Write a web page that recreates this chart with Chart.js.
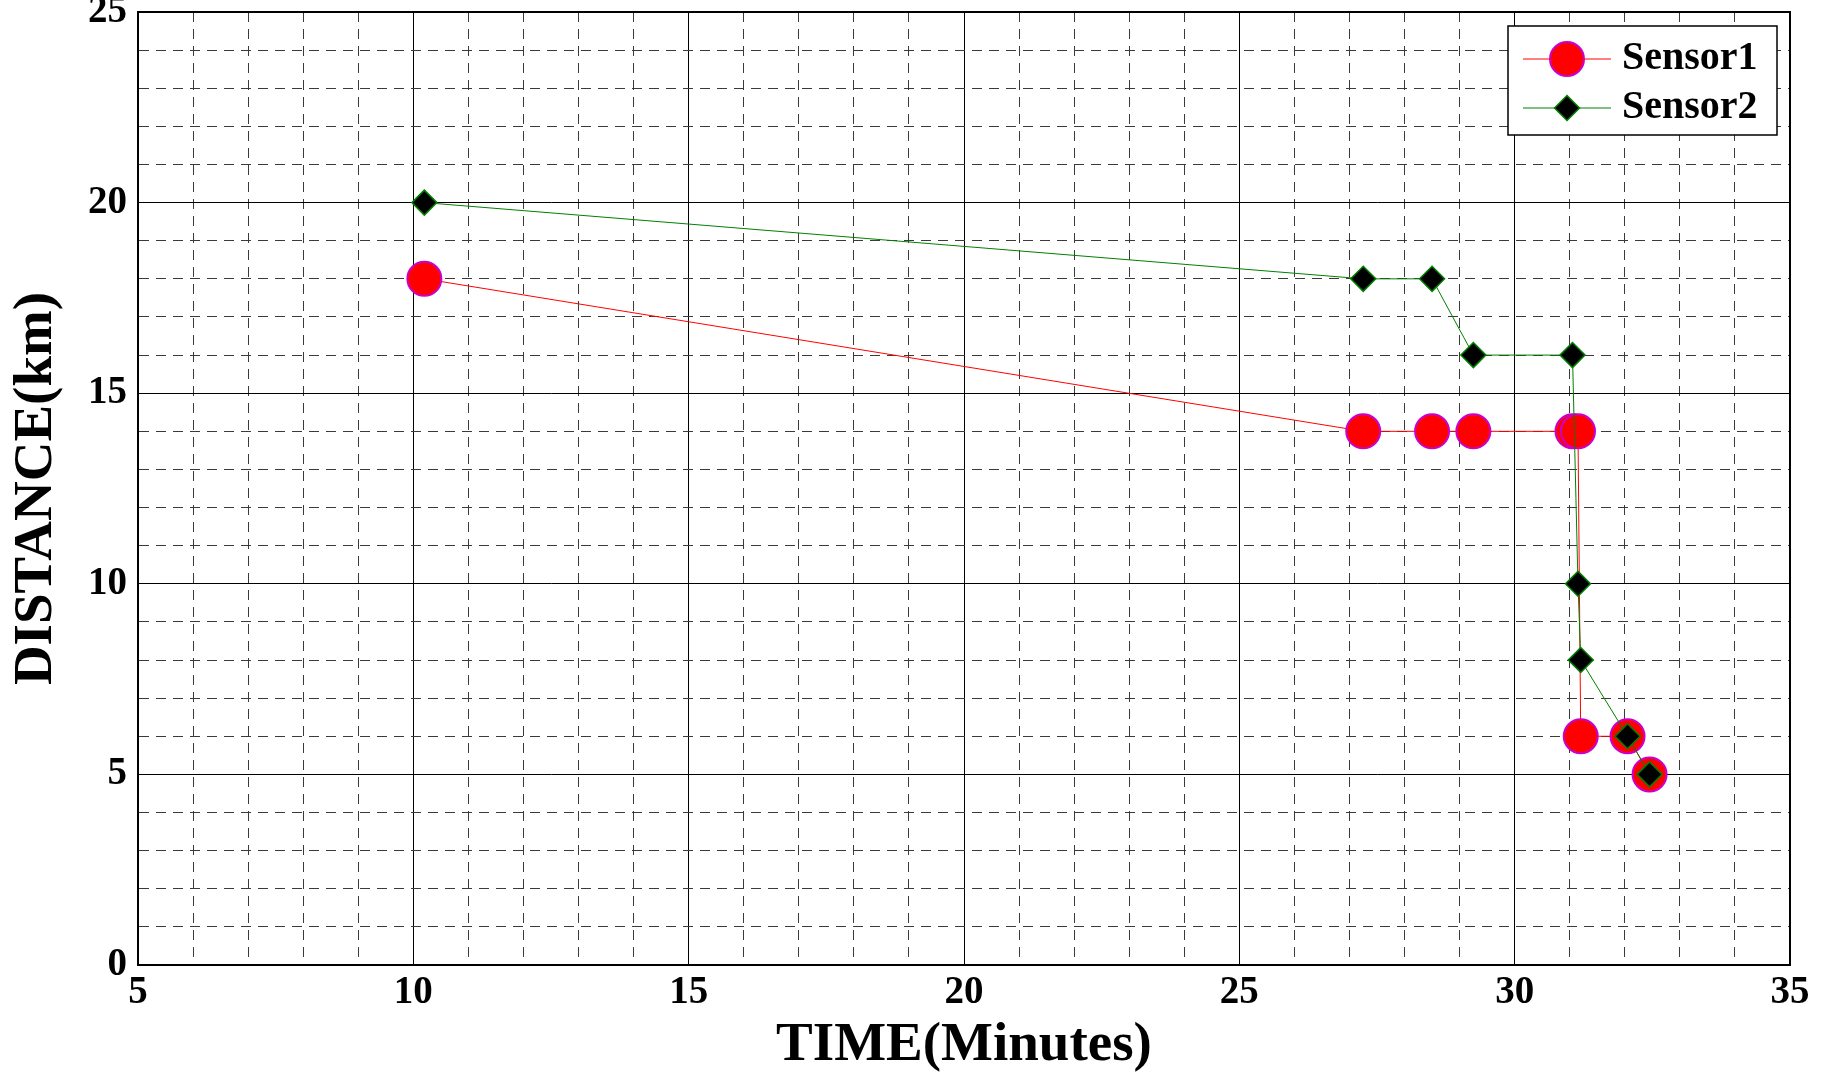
<!DOCTYPE html>
<html>
<head>
<meta charset="utf-8">
<title>Sensor distance</title>
<script src="https://cdn.jsdelivr.net/npm/chart.js@4.4.1/dist/chart.umd.min.js"></script>
<style>
    html, body { margin: 0; padding: 0; background: #ffffff; }
    #wrap { width: 1825px; height: 1074px; }
</style>
</head>
<body>
<div id="wrap"><canvas id="distanceChart" width="1825" height="1074"></canvas></div>
<script>
// Dữ liệu
const timeMinutes = [10.2, 27.25, 28.5, 29.25, 31.05, 31.15, 31.2, 32.05, 32.45];
const sensor1Distance = [18, 14, 14, 14, 14, 14, 6, 6, 5];
const sensor2Distance = [20, 18, 18, 16, 16, 10, 8, 6, 5];
const seriesNames = ["Sensor1", "Sensor2"];
const xTickLabels = [5, 10, 15, 20, 25, 30, 35];
const yTickLabels = [0, 5, 10, 15, 20, 25];

const serifFont = "'Liberation Serif', 'Times New Roman', serif";
let distanceChart = null;

// Hàm ghép cặp (x, y) cho mỗi cảm biến
function toPoints(xs, ys) {
    return xs.map((x, i) => ({ x: x, y: ys[i] }));
}

// Hàm vẽ biểu tượng chú thích: đoạn thẳng + ký hiệu
function makeLegendIcon(lineColor, marker) {
    const c = document.createElement("canvas");
    c.width = 88;
    c.height = 40;
    const g = c.getContext("2d");
    g.strokeStyle = lineColor;
    g.lineWidth = 1;
    g.beginPath();
    g.moveTo(0, 20);
    g.lineTo(88, 20);
    g.stroke();
    g.beginPath();
    if (marker === "circle") {
        g.arc(44, 20, 17, 0, Math.PI * 2);
        g.fillStyle = "#ff0000";
        g.strokeStyle = "#cc00cc";
        g.lineWidth = 2;
    } else {
        g.moveTo(44 - 12.5, 20);
        g.lineTo(44, 20 - 12.5);
        g.lineTo(44 + 12.5, 20);
        g.lineTo(44, 20 + 12.5);
        g.closePath();
        g.fillStyle = "#000000";
        g.strokeStyle = "#008000";
        g.lineWidth = 1.5;
    }
    g.fill();
    g.stroke();
    return c;
}

const legendIcons = [makeLegendIcon("#ff0000", "circle"), makeLegendIcon("#008000", "diamond")];

// Lưới: nét liền ở bội số của 5, nét đứt ở các vạch phụ
function gridColor(ctx) {
    return ctx.tick && ctx.tick.value % 5 === 0 ? "#000000" : "#3a3a3a";
}
function gridDash(ctx) {
    return ctx.tick && ctx.tick.value % 5 !== 0 ? [10, 7] : [];
}

// Khung trục và chú thích (đặt chú thích trong vùng vẽ, góc trên phải)
const framePlugin = {
    id: "matlabFrame",
    beforeLayout(chart) {
        const lg = chart.legend;
        if (!lg || lg._moved) {
            return;
        }
        lg._moved = true;
        lg._layers = () => [{
            z: 1,
            draw: () => {
                const ca = chart.chartArea;
                const ctx = chart.ctx;
                const fw = 269;
                const fh = 109;
                const fx = ca.right - 13 - fw;
                const fy = ca.top + 14;
                ctx.save();
                ctx.fillStyle = "#ffffff";
                ctx.fillRect(fx, fy, fw, fh);
                ctx.strokeStyle = "#000000";
                ctx.lineWidth = 1.5;
                ctx.strokeRect(fx, fy, fw, fh);
                ctx.restore();
                lg.left = fx + 15;
                lg.top = fy + 4;
                lg.right = fx + fw;
                lg.bottom = fy + fh + 20;
                lg.width = lg.right - lg.left;
                lg.height = lg.bottom - lg.top;
                lg.draw(ca);
            }
        }];
    },
    beforeDatasetsDraw(chart) {
        const ca = chart.chartArea;
        const ctx = chart.ctx;
        ctx.save();
        ctx.strokeStyle = "#000000";
        ctx.lineWidth = 2;
        ctx.strokeRect(ca.left, ca.top, ca.right - ca.left, ca.bottom - ca.top);
        ctx.restore();
    }
};

// Hàm tạo biểu đồ khoảng cách theo thời gian
function createDistanceChart() {
    const ctx = document.getElementById("distanceChart").getContext("2d");

    if (distanceChart) {
        distanceChart.destroy();
    }

    distanceChart = new Chart(ctx, {
        type: "line",
        data: {
            datasets: [{
                label: seriesNames[0],
                data: toPoints(timeMinutes, sensor1Distance),
                order: 1,
                borderColor: "#ff0000",
                borderWidth: 1,
                backgroundColor: "#ff0000",
                pointStyle: "circle",
                pointRadius: 17,
                pointHoverRadius: 17,
                pointBackgroundColor: "#ff0000",
                pointBorderColor: "#cc00cc",
                pointBorderWidth: 2,
                tension: 0,
                fill: false
            }, {
                label: seriesNames[1],
                data: toPoints(timeMinutes, sensor2Distance),
                order: 0,
                borderColor: "#008000",
                borderWidth: 1,
                backgroundColor: "#000000",
                pointStyle: "rectRot",
                pointRadius: 12.5,
                pointHoverRadius: 12.5,
                pointBackgroundColor: "#000000",
                pointBorderColor: "#008000",
                pointBorderWidth: 1.5,
                tension: 0,
                fill: false
            }]
        },
        options: {
            responsive: false,
            animation: false,
            events: [],
            layout: {
                autoPadding: false,
                padding: { left: 0, top: 12, right: 35, bottom: 0 }
            },
            scales: {
                x: {
                    type: "linear",
                    min: 5,
                    max: 35,
                    afterFit: (s) => {
                        s.height = 109;
                        s.paddingLeft = 0;
                        s.paddingRight = 0;
                    },
                    ticks: {
                        stepSize: 1,
                        autoSkip: false,
                        maxRotation: 0,
                        padding: 5,
                        color: "#000000",
                        font: { family: serifFont, size: 39, weight: "bold", lineHeight: 1.2 },
                        callback: (v) => xTickLabels.includes(v) ? String(v) : ""
                    },
                    grid: { color: gridColor, lineWidth: 1, drawTicks: false },
                    border: { display: true, color: "#000000", width: 2, dash: gridDash },
                    title: {
                        display: true,
                        text: "TIME(Minutes)",
                        color: "#000000",
                        font: { family: serifFont, size: 55, weight: "bold", lineHeight: 1 },
                        padding: { top: 0, bottom: 1 }
                    }
                },
                y: {
                    type: "linear",
                    min: 0,
                    max: 25,
                    afterFit: (s) => {
                        s.width = 138;
                        s.paddingTop = 0;
                        s.paddingBottom = 0;
                    },
                    ticks: {
                        stepSize: 1,
                        autoSkip: false,
                        padding: 11,
                        color: "#000000",
                        font: { family: serifFont, size: 39, weight: "bold", lineHeight: 1.2 },
                        callback: (v) => yTickLabels.includes(v) ? String(v) : ""
                    },
                    grid: { color: gridColor, lineWidth: 1, drawTicks: false },
                    border: { display: true, color: "#000000", width: 2, dash: gridDash },
                    title: {
                        display: true,
                        text: "DISTANCE(km)",
                        color: "#000000",
                        font: { family: serifFont, size: 55, weight: "bold", lineHeight: 1 },
                        padding: { top: 9, bottom: 0 }
                    }
                }
            },
            plugins: {
                tooltip: { enabled: false },
                legend: {
                    display: true,
                    position: "chartArea",
                    align: "start",
                    labels: {
                        usePointStyle: true,
                        pointStyleWidth: 70,
                        boxHeight: 40,
                        padding: 9,
                        color: "#000000",
                        font: { family: serifFont, size: 40, weight: "bold" },
                        generateLabels: (chart) => chart.data.datasets.map((ds, i) => ({
                            text: ds.label,
                            datasetIndex: i,
                            pointStyle: legendIcons[i],
                            fontColor: "#000000",
                            fillStyle: "transparent",
                            strokeStyle: "transparent",
                            lineWidth: 0,
                            hidden: false
                        }))
                    }
                }
            }
        },
        plugins: [framePlugin]
    });
}

// Khởi tạo biểu đồ
document.addEventListener("DOMContentLoaded", () => {
    createDistanceChart();
});
</script>
</body>
</html>
